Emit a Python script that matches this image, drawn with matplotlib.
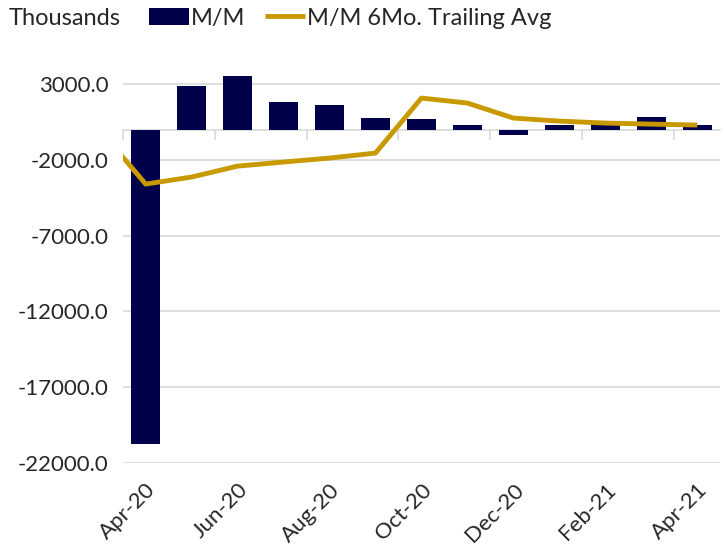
import matplotlib
matplotlib.use("Agg")
import matplotlib.pyplot as plt
import numpy as np

plt.rcParams['font.family'] = ['Lato', 'DejaVu Sans']

months = ['Apr-20', 'May-20', 'Jun-20', 'Jul-20', 'Aug-20', 'Sep-20', 'Oct-20',
          'Nov-20', 'Dec-20', 'Jan-21', 'Feb-21', 'Mar-21', 'Apr-21']
mm = [-20745, 2890, 3550, 1790, 1615, 760, 690, 320, -360, 320, 560, 800, 300]
# trailing avg starts one month earlier (Mar-20), clipped at the left edge
avg_months = ['Mar-20'] + months
avg = [-20, -3595, -3130, -2410, -2140, -1880, -1550, 2080, 1750, 760, 560, 430, 360, 300]

navy = '#00004B'
gold = '#C99A00'
grey = '#D9D9D9'
txt = '#262626'

fig = plt.figure(figsize=(7.26, 5.48), dpi=100)
ax = fig.add_axes([0.169, 0.155, 0.823, 0.733])

x = np.arange(len(months))
xa = np.arange(len(avg_months)) - 1
bars = ax.bar(x, mm, width=0.63, color=navy, label='M/M', zorder=3)
line, = ax.plot(xa, avg, color=gold, lw=3.5, label='M/M 6Mo. Trailing Avg', zorder=4,
                solid_capstyle='butt')

ax.set_xlim(-0.5, len(months) - 0.5)
ax.set_ylim(-22000, 4500)
yt = np.arange(-22000, 3001, 5000)
ax.set_yticks(yt)
ax.set_yticklabels([f'{v:.1f}' for v in yt], fontsize=16, color=txt)
ax.tick_params(axis='y', length=0, pad=10)
ax.grid(axis='y', color=grey, lw=1.2, zorder=0)
ax.set_axisbelow(True)

for s in ['left', 'right', 'top']:
    ax.spines[s].set_visible(False)
ax.spines['bottom'].set_position(('data', 0))
ax.spines['bottom'].set_color(grey)
ax.spines['bottom'].set_linewidth(1.2)
ax.spines['bottom'].set_zorder(2)
ax.set_xticks(np.arange(-0.5, len(months), 2))
ax.set_xticklabels([])
ax.tick_params(axis='x', length=7, color=grey, width=1.2)

sec = ax.secondary_xaxis(0.0)
sec.set_xticks(x[::2])
sec.set_xticklabels(months[::2], rotation=45, ha='right', rotation_mode='anchor',
                    fontsize=16, color=txt)
sec.tick_params(length=0, pad=12)
sec.spines['bottom'].set_visible(False)

fig.text(0.012, 0.967, 'Thousands', fontsize=17, color=txt, va='center')
fig.legend([bars, line], ['M/M', 'M/M 6Mo. Trailing Avg'],
           loc='center left', bbox_to_anchor=(0.192, 0.967), ncol=2, frameon=False,
           fontsize=17, handlelength=1.7, handletextpad=0.1, columnspacing=0.8,
           borderaxespad=0, labelcolor=txt)

fig.savefig('out.png', dpi=100)
